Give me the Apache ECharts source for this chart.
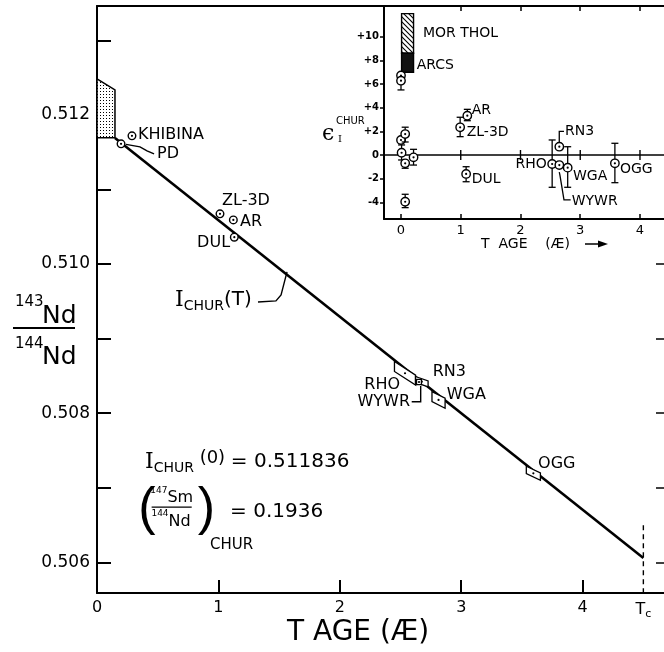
<!DOCTYPE html>
<html><head><meta charset="utf-8">
<script src="https://cdn.jsdelivr.net/npm/echarts@6/dist/echarts.min.js"></script>
<style>html,body{margin:0;padding:0;background:#fff}#c{width:664px;height:652px}</style>
</head><body><div id="c"></div>
<script>
// ---------- data: Nd isotopic evolution of CHUR ----------
const ageTicks = [1, 2, 3, 4];
const ageTickLabels = [0, 1, 2, 3, 4];
const tcAge = 4.5;
const ndTicks = [0.506, 0.507, 0.508, 0.509, 0.510, 0.511, 0.512, 0.513];
const ndTickLabels = [0.506, 0.508, 0.510, 0.512];
const ndRightTicks = [0.506, 0.507, 0.508, 0.509, 0.510];

const churAges = [0.148, 4.5];
const churRatios = [0.51169, 0.50606];

const modernAges = [0, 0.148, 0.148, 0];
const modernRatios = [0.512484, 0.512336, 0.511692, 0.511692];

const youngNames = ['KHIBINA', 'PD', 'ZL-3D', 'AR', 'DUL'];
const youngAges = [0.288, 0.198, 1.013, 1.123, 1.131];
const youngRatios = [0.511719, 0.511612, 0.510673, 0.510592, 0.510360];

const oldNames = ['RHO', 'RN3', 'WYWR', 'WGA', 'OGG'];
const oldAges = [2.537, 2.675, 2.652, 2.813, 3.594];
const oldRatios = [0.508536, 0.508423, 0.508419, 0.508178, 0.507195];
const oldAgeErr = [0.087, 0.052, 0.02, 0.054, 0.058];
const oldRatioErr = [0.000067, 0.00004, 0.000034, 0.000067, 0.00005];
const oldErrTilt = [0.00105, 0.00057, 0, 0.00081, 0.00077];

// inset: epsilon(CHUR) of initial ratios vs age
const epsTicks = [-4, -2, 0, 2, 4, 6, 8, 10];
const insetAgeTicks = [0, 1, 2, 3, 4];
const epsAges = [0.00, 0.00, 0.00, 0.07, 0.01, 0.07, 0.21, 0.07, 0.99, 1.11, 1.09, 2.53, 2.65, 2.65, 2.79, 3.58];
const epsValues = [6.72, 6.28, 1.27, 1.77, 0.19, -0.70, -0.20, -3.95, 2.34, 3.32, -1.60, -0.76, 0.70, -0.85, -1.07, -0.70];
const epsLow = [null, 5.5, null, 1.1, -0.42, -1.12, -0.85, -4.45, 1.55, 2.9, -2.26, -2.73, null, null, -2.73, -2.34];
const epsHigh = [null, null, null, 2.35, 0.85, null, 0.48, -3.32, 3.19, 3.86, -0.99, 1.27, null, null, 0.70, 0.99];
const morTholRange = [0.01, 0.21, 8.6, 11.95];
const arcsRange = [0.01, 0.21, 7.0, 8.6];

// ---------- fill patterns ----------
function makePattern(size, draw) {
  const c = document.createElement('canvas');
  c.width = size; c.height = size;
  const g = c.getContext('2d');
  g.fillStyle = '#fff'; g.fillRect(0, 0, size, size);
  draw(g);
  return { image: c, repeat: 'repeat' };
}
const dotted = makePattern(3, g => { g.fillStyle = '#000'; g.fillRect(1, 1, 1, 1); });
const hatched = makePattern(5, g => {
  g.strokeStyle = '#000'; g.lineWidth = 1.1;
  g.beginPath(); g.moveTo(-1, -1); g.lineTo(6, 6); g.moveTo(-1, 4); g.lineTo(1, 6); g.moveTo(4, -1); g.lineTo(6, 1); g.stroke();
});

const SANS = '"DejaVu Sans", sans-serif';
const SERIF = '"DejaVu Serif", serif';

// ---------- annotation anchors (data coordinates) ----------
const mainNotes = [
  [0.338, 0.511732, 'KHIBINA', 'left'],
  [0.494, 0.511478, 'PD', 'left'],
  [1.03, 0.510847, 'ZL-3D', 'left'],
  [1.178, 0.510565, 'AR', 'left'],
  [1.096, 0.510284, 'DUL', 'right'],
  [2.496, 0.508379, 'RHO', 'right'],
  [2.578, 0.508155, 'WYWR', 'right'],
  [2.765, 0.508557, 'RN3', 'left'],
  [2.881, 0.508245, 'WGA', 'left'],
  [3.633, 0.507319, 'OGG', 'left']
];
const mainRich = [
  [0.6425, 0.509519, '{i|I}{s|CHUR}{t|(T)}', 'left'],
  [0.395, 0.507346, '{i|I}{s|CHUR} {p|(0)} {t|= 0.511836}', 'left'],
  [0.615, 0.506895, '{u|147}{b|Sm}', 'center'],
  [0.61, 0.506575, '{u|144}{b|Nd}', 'center'],
  [0.931, 0.506233, '{c|CHUR}', 'left'],
  [1.096, 0.506675, '{t|= 0.1936}', 'left'],
  [0.34, 0.506702, '{q|(}', 'left'],
  [0.83, 0.506702, '{q|)}', 'left']
];
const mainLeaders = [
  [[0.239, 0.511605], [0.354, 0.511571], [0.412, 0.511518], [0.470, 0.511478]],
  [[1.326, 0.509492], [1.474, 0.509506], [1.516, 0.509586], [1.565, 0.509895]],
  [[2.592, 0.508155], [2.666, 0.508155], [2.666, 0.508365]],
  [[0.45, 0.506742], [0.78, 0.506742]]
];
const insetNotes = [
  [0.368, 10.31, 'MOR THOL', 'left'],
  [0.263, 7.61, 'ARCS', 'left'],
  [1.183, 3.80, 'AR', 'left'],
  [1.10, 1.94, 'ZL-3D', 'left'],
  [2.745, 2.03, 'RN3', 'left'],
  [2.439, -0.76, 'RHO', 'right'],
  [2.879, -1.78, 'WGA', 'left'],
  [2.857, -3.89, 'WYWR', 'left'],
  [3.665, -1.18, 'OGG', 'left'],
  [1.183, -2.03, 'DUL', 'left']
];
const insetLeaders = [
  [[2.649, 1.06], [2.649, 1.99], [2.728, 1.99]],
  [[2.649, -1.45], [2.66, -1.7], [2.728, -3.80], [2.84, -3.80]]
];

const richStyles = {
  i: { fontFamily: SERIF, fontSize: 22, lineHeight: 26, verticalAlign: 'middle' },
  s: { fontFamily: SANS, fontSize: 14, lineHeight: 14, verticalAlign: 'bottom' },
  t: { fontFamily: SANS, fontSize: 20, lineHeight: 26, verticalAlign: 'middle' },
  p: { fontFamily: SANS, fontSize: 18, lineHeight: 22, verticalAlign: 'top' },
  u: { fontFamily: SANS, fontSize: 9, lineHeight: 20, verticalAlign: 'top' },
  b: { fontFamily: SANS, fontSize: 16, lineHeight: 20, verticalAlign: 'bottom' },
  c: { fontFamily: SANS, fontSize: 15, lineHeight: 18, verticalAlign: 'middle' },
  q: { fontFamily: '"Liberation Sans", sans-serif', fontSize: 52, lineHeight: 60, verticalAlign: 'middle' }
};

// ---------- render helpers ----------
function custom(xi, yi, data, renderItem, z) {
  return { type: 'custom', xAxisIndex: xi, yAxisIndex: yi, data, renderItem, z: z || 3, silent: true, animation: false, clip: false };
}
function ringDot(p, r) {
  return [
    { type: 'circle', shape: { cx: p[0], cy: p[1], r }, style: { fill: '#fff', stroke: '#000', lineWidth: 1.4 } },
    { type: 'circle', shape: { cx: p[0], cy: p[1], r: 1.1 }, style: { fill: '#000' } }
  ];
}
function textItem(notes, font, rich) {
  return function (params, api) {
    const n = notes[params.dataIndex];
    const p = api.coord([n[0], n[1]]);
    return { type: 'text', x: p[0], y: p[1], style: { text: n[2], font, fill: '#000', align: n[3], verticalAlign: 'middle', rich } };
  };
}
function polyItem(lines, width) {
  return function (params, api) {
    const pts = lines[params.dataIndex].map(q => api.coord(q));
    return { type: 'polyline', shape: { points: pts }, style: { stroke: '#000', lineWidth: width, fill: null } };
  };
}

const series = [];

// CHUR evolution line
series.push({ type: 'line', xAxisIndex: 0, yAxisIndex: 0, data: churAges.map((a, i) => [a, churRatios[i]]),
  symbol: 'none', lineStyle: { color: '#000', width: 2.6 }, z: 4, silent: true, animation: false });
// Tc marker
series.push({ type: 'line', xAxisIndex: 0, yAxisIndex: 0, data: [[tcAge, 0.5065], [tcAge, 0.50559]],
  symbol: 'none', lineStyle: { color: '#000', width: 1.4, type: [5, 4] }, silent: true, animation: false });
// present-day range (dotted box)
series.push(custom(0, 0, [[modernAges[0], modernRatios[0]]], function (params, api) {
  const pts = modernAges.map((a, i) => api.coord([a, modernRatios[i]]));
  return { type: 'polygon', shape: { points: pts }, style: { fill: dotted, stroke: '#000', lineWidth: 1.5 } };
}, 2));
// young rocks: ringed points
series.push(custom(0, 0, youngAges.map((a, i) => [a, youngRatios[i]]), function (params, api) {
  const p = api.coord([youngAges[params.dataIndex], youngRatios[params.dataIndex]]);
  return { type: 'group', children: ringDot(p, 3.8) };
}, 5));
// old rocks: correlated error boxes
series.push(custom(0, 0, oldAges.map((a, i) => [a, oldRatios[i]]), function (params, api) {
  const k = params.dataIndex;
  const t = oldAges[k], v = oldRatios[k], dt = oldAgeErr[k], dv = oldRatioErr[k], s = oldErrTilt[k];
  const pts = [
    [t - dt, v + dv + s * dt], [t + dt, v + dv - s * dt],
    [t + dt, v - dv - s * dt], [t - dt, v - dv + s * dt]
  ].map(q => api.coord(q));
  const c = api.coord([t, v]);
  return { type: 'group', children: [
    { type: 'polygon', shape: { points: pts }, style: { fill: '#fff', stroke: '#000', lineWidth: 1.3 } },
    { type: 'circle', shape: { cx: c[0], cy: c[1], r: 1.1 }, style: { fill: '#000' } }
  ] };
}, 5));
series.push(custom(0, 0, mainLeaders.map(l => l[0]), polyItem(mainLeaders, 1.4), 6));
series.push(custom(0, 0, mainNotes.map(n => [n[0], n[1]]), textItem(mainNotes, '16px ' + SANS), 7));
series.push(custom(0, 0, mainRich.map(n => [n[0], n[1]]), textItem(mainRich, '18px ' + SANS, richStyles), 7));

// ---- inset ----
function rectItem(range, fill) {
  return function (params, api) {
    const a = api.coord([range[0], range[3]]), b = api.coord([range[1], range[2]]);
    return { type: 'rect', shape: { x: a[0], y: a[1], width: b[0] - a[0], height: b[1] - a[1] }, style: { fill, stroke: '#000', lineWidth: 1.4 } };
  };
}
series.push(custom(1, 1, [[morTholRange[0], morTholRange[2]]], rectItem(morTholRange, hatched), 3));
series.push(custom(1, 1, [[arcsRange[0], arcsRange[2]]], rectItem(arcsRange, '#111'), 3));
// zero line with its tick marks
series.push({ type: 'line', xAxisIndex: 1, yAxisIndex: 1, data: [[-0.2845, 0], [4.402, 0]], symbol: 'none',
  lineStyle: { color: '#000', width: 1.6 }, silent: true, animation: false, z: 2 });
series.push(custom(1, 1, ageTicks.map(a => [a, 0]), function (params, api) {
  const p = api.coord([ageTicks[params.dataIndex], 0]);
  return { type: 'line', shape: { x1: p[0], y1: p[1] - 5, x2: p[0], y2: p[1] + 5 }, style: { stroke: '#000', lineWidth: 1.4 } };
}, 2));
// points with error bars
series.push(custom(1, 1, epsAges.map((a, i) => [a, epsValues[i]]), function (params, api) {
  const k = params.dataIndex;
  const p = api.coord([epsAges[k], epsValues[k]]);
  const kids = [];
  [epsLow[k], epsHigh[k]].forEach(e => {
    if (e === null) return;
    const q = api.coord([epsAges[k], e]);
    kids.push({ type: 'line', shape: { x1: p[0], y1: p[1], x2: q[0], y2: q[1] }, style: { stroke: '#000', lineWidth: 1.3 } });
    kids.push({ type: 'line', shape: { x1: q[0] - 3.5, y1: q[1], x2: q[0] + 3.5, y2: q[1] }, style: { stroke: '#000', lineWidth: 1.3 } });
  });
  return { type: 'group', children: kids.concat(ringDot(p, 4.2)) };
}, 5));
series.push(custom(1, 1, insetLeaders.map(l => l[0]), polyItem(insetLeaders, 1.3), 6));
series.push(custom(1, 1, insetNotes.map(n => [n[0], n[1]]), textItem(insetNotes, '14px ' + SANS), 7));

const frame = { color: '#000', width: 2 };
const noLabel = { show: false };
const option = {
  backgroundColor: '#fff',
  animation: false,
  grid: [
    { left: 97, top: 6, right: 0, bottom: 59, outerBoundsMode: 'none', containLabel: false },
    { left: 384, top: 6, right: 0, bottom: 433, outerBoundsMode: 'none', containLabel: false }
  ],
  xAxis: [
    { type: 'value', gridIndex: 0, min: 0, max: 4.670, splitLine: { show: false },
      axisLine: { onZero: false, lineStyle: frame },
      axisTick: { inside: true, length: 13, customValues: ageTicks, lineStyle: frame },
      axisLabel: { customValues: ageTickLabels.concat([tcAge]), margin: 7, color: '#000', fontFamily: SANS, fontSize: 16,
        formatter: v => v === tcAge ? '{a|T}{b|c}' : String(v),
        rich: { a: { fontFamily: SANS, fontSize: 16, lineHeight: 20, verticalAlign: 'middle' }, b: { fontFamily: SANS, fontSize: 11, lineHeight: 11, verticalAlign: 'bottom' } } } },
    { type: 'value', gridIndex: 1, min: -0.2845, max: 4.402, splitLine: { show: false },
      axisLine: { onZero: false, lineStyle: frame },
      axisTick: { inside: true, length: 5, customValues: insetAgeTicks, lineStyle: { color: '#000', width: 1.5 } },
      axisLabel: { customValues: insetAgeTicks, margin: 5, color: '#000', fontFamily: SANS, fontSize: 13 } },
    { type: 'value', gridIndex: 1, position: 'top', min: -0.2845, max: 4.402, splitLine: { show: false },
      axisLine: { show: false, onZero: false },
      axisTick: { inside: true, length: 5, customValues: ageTicks, lineStyle: { color: '#000', width: 1.5 } },
      axisLabel: noLabel },
    { type: 'value', gridIndex: 0, position: 'top', min: 0, max: 4.670, splitLine: { show: false },
      axisLine: { onZero: false, lineStyle: frame }, axisTick: { show: false }, axisLabel: noLabel }
  ],
  yAxis: [
    { type: 'value', gridIndex: 0, min: 0.50559, max: 0.51346, splitLine: { show: false },
      axisLine: { onZero: false, lineStyle: frame },
      axisTick: { inside: true, length: 14, customValues: ndTicks, lineStyle: frame },
      axisLabel: { customValues: ndTickLabels, margin: 7, color: '#000', fontFamily: SANS, fontSize: 17, formatter: v => v.toFixed(3) } },
    { type: 'value', gridIndex: 1, min: -5.41, max: 12.595, splitLine: { show: false },
      axisLine: { onZero: false, lineStyle: frame },
      axisTick: { inside: false, length: 4, customValues: epsTicks, lineStyle: { color: '#000', width: 1.5 } },
      axisLabel: { customValues: epsTicks, margin: 5, color: '#000', fontFamily: SANS, fontSize: 10, fontWeight: 'bold',
        formatter: v => v > 0 ? '+' + v : String(v) } },
    { type: 'value', gridIndex: 0, position: 'right', min: 0.50559, max: 0.51346, splitLine: { show: false },
      axisLine: { show: false, onZero: false },
      axisTick: { inside: true, length: 8, customValues: ndRightTicks, lineStyle: { color: '#000', width: 1.5 } },
      axisLabel: noLabel }
  ],
  graphic: [
    // vertical axis title: 143Nd / 144Nd
    { type: 'text', x: 15, y: 302, style: { text: '143', font: '15px ' + SANS, fill: '#000', verticalAlign: 'middle' } },
    { type: 'text', x: 42, y: 316, style: { text: 'Nd', font: '25px ' + SANS, fill: '#000', verticalAlign: 'middle' } },
    { type: 'line', shape: { x1: 13, y1: 328, x2: 75, y2: 328 }, style: { stroke: '#000', lineWidth: 2 } },
    { type: 'text', x: 15, y: 344, style: { text: '144', font: '15px ' + SANS, fill: '#000', verticalAlign: 'middle' } },
    { type: 'text', x: 42, y: 357, style: { text: 'Nd', font: '25px ' + SANS, fill: '#000', verticalAlign: 'middle' } },
    // horizontal axis title
    { type: 'text', x: 287, y: 633, style: { text: 'T AGE (Æ)', font: '28px ' + SANS, fill: '#000', verticalAlign: 'middle' } },
    // inset axis titles
    { type: 'text', x: 481, y: 244, style: { text: 'T  AGE    (Æ)', font: '14px ' + SANS, fill: '#000', verticalAlign: 'middle' } },
    { type: 'line', shape: { x1: 585, y1: 244, x2: 600, y2: 244 }, style: { stroke: '#000', lineWidth: 1.5 } },
    { type: 'polygon', shape: { points: [[598, 240.5], [608, 244], [598, 247.5]] }, style: { fill: '#000' } },
    { type: 'text', x: 322, y: 134, style: { text: 'ϵ', font: '22px ' + SERIF, fill: '#000', verticalAlign: 'middle' } },
    { type: 'text', x: 336, y: 121, style: { text: 'CHUR', font: '10px ' + SANS, fill: '#000', verticalAlign: 'middle' } },
    { type: 'text', x: 338, y: 139, style: { text: 'I', font: '10px ' + SERIF, fill: '#000', verticalAlign: 'middle' } }
  ],
  series
};

const chart = echarts.init(document.getElementById('c'), null, { renderer: 'canvas' });
chart.setOption(option);
</script>
</body></html>
